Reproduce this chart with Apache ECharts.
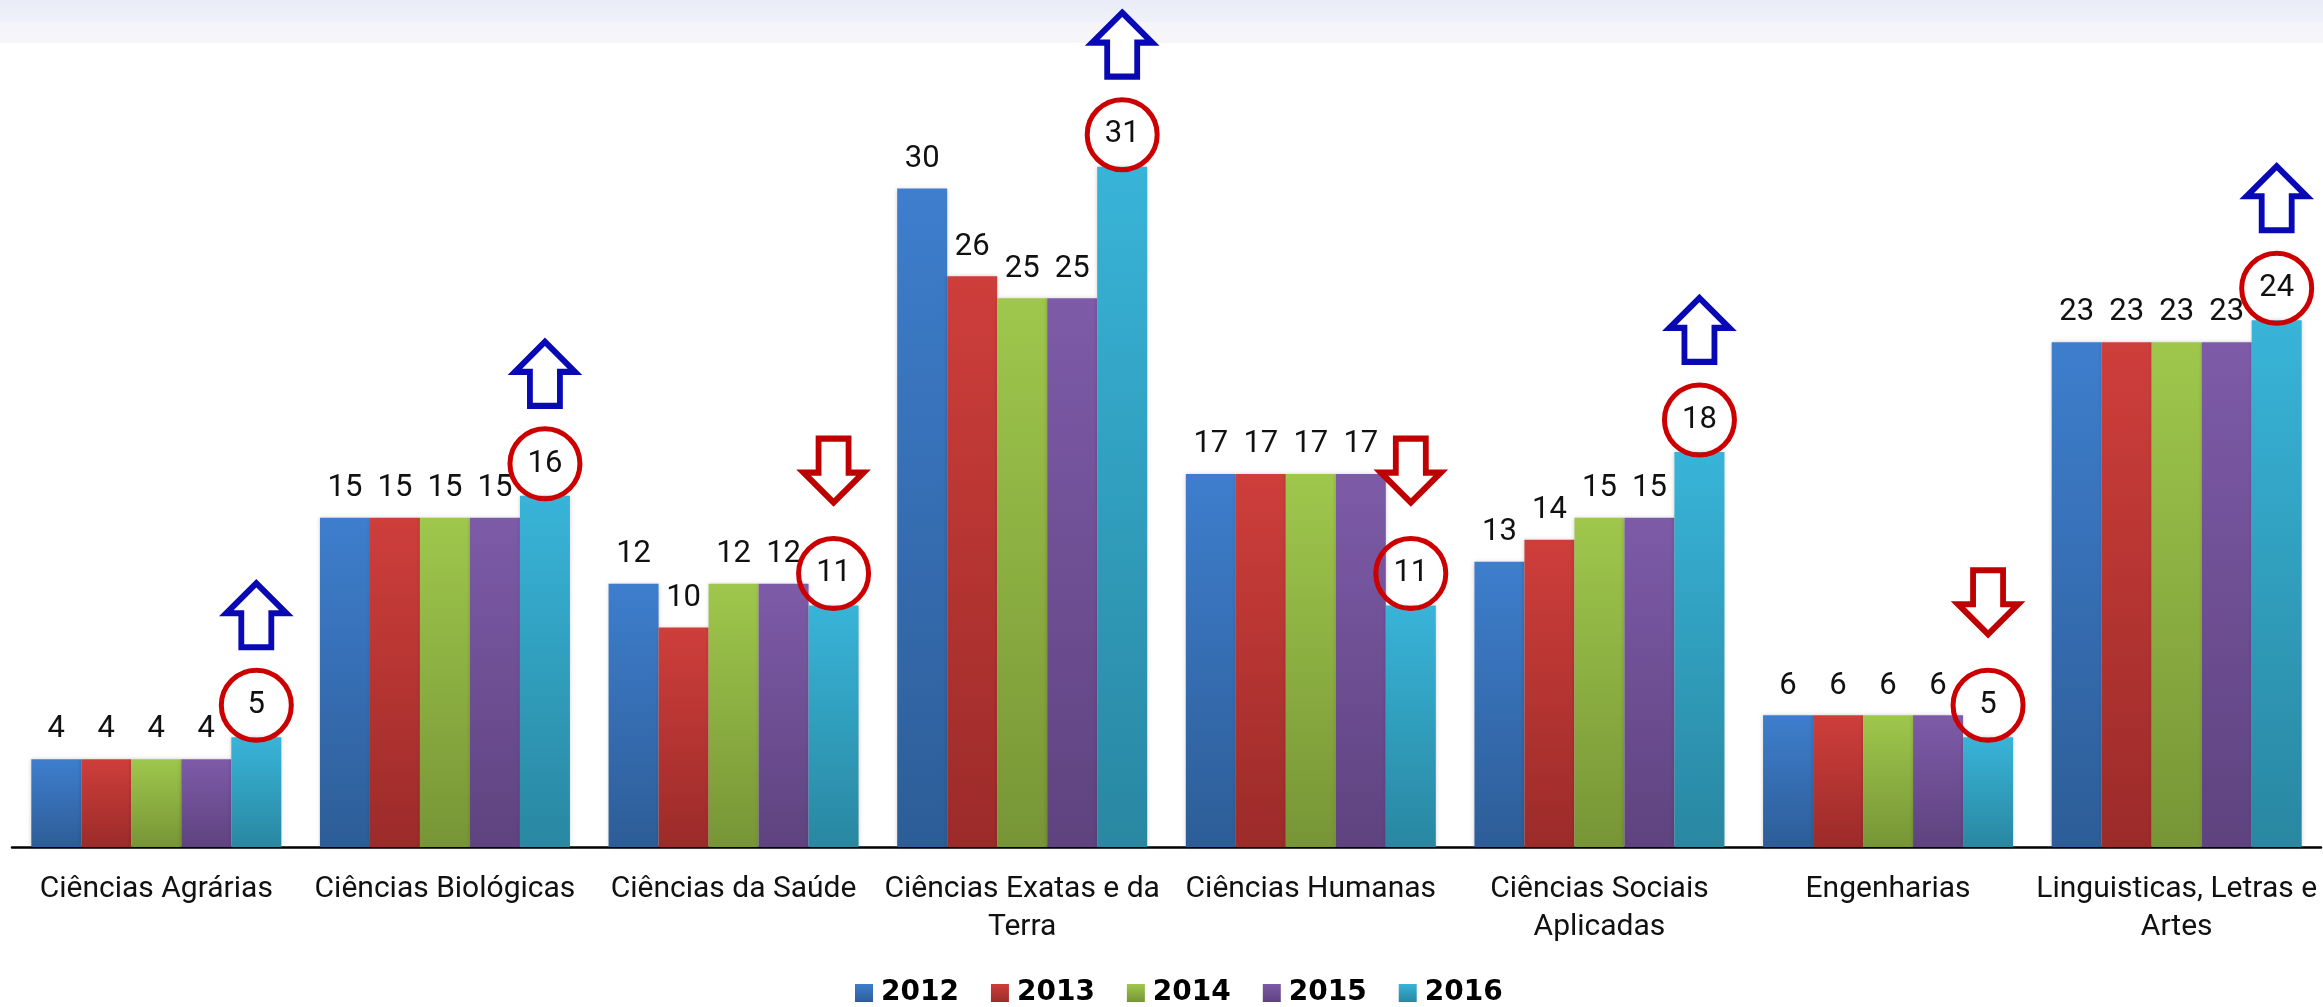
<!DOCTYPE html>
<html>
<head>
<meta charset="utf-8">
<script src="https://cdn.jsdelivr.net/npm/echarts@6/dist/echarts.min.js"></script>
<style>
  html, body { margin: 0; padding: 0; background: #fff; }
  #chart { width: 2323px; height: 1007px; }
</style>
</head>
<body>
<div id="chart"></div>
<script>
// categorias (eixo x)
const categories = [
  'Ciências Agrárias',
  'Ciências Biológicas',
  'Ciências da Saúde',
  'Ciências Exatas e da\nTerra',
  'Ciências Humanas',
  'Ciências Sociais\nAplicadas',
  'Engenharias',
  'Linguisticas, Letras e\nArtes'
]
const years = ['2012', '2013', '2014', '2015', '2016']
const v2012 = [4, 15, 12, 30, 17, 13, 6, 23]
const v2013 = [4, 15, 10, 26, 17, 14, 6, 23]
const v2014 = [4, 15, 12, 25, 17, 15, 6, 23]
const v2015 = [4, 15, 12, 25, 17, 15, 6, 23]
const v2016 = [5, 16, 11, 31, 11, 18, 5, 24]

const values = [v2012, v2013, v2014, v2015, v2016]
// cores: topo -> base
const colors = [
  ['#3e7ecd', '#2d5d97'],
  ['#ce3e3b', '#9b2b29'],
  ['#9fc74c', '#779536'],
  ['#7d5ba8', '#5e437f'],
  ['#38b4d8', '#2987a1']
]

const UP = 'path://M30,0 L60,30 L45,30 L45,64 L15,64 L15,30 L0,30 Z'
const DOWN = 'path://M15,0 L45,0 L45,34 L60,34 L30,64 L0,34 L15,34 Z'

const chart = echarts.init(document.getElementById('chart'))

const barSeries = years.map((y, k) => {
  const s = {
    name: y,
    type: 'bar',
    data: values[k],
    barWidth: 50,
    barGap: '0%',
    itemStyle: {
      color: new echarts.graphic.LinearGradient(0, 0, 0, 1, [
        { offset: 0, color: colors[k][0] },
        { offset: 1, color: colors[k][1] }
      ]),
      shadowBlur: 4,
      shadowColor: 'rgba(0,0,0,0.18)'
    },
    label: {
      show: true,
      position: 'top',
      distance: 14,
      color: '#111',
      fontFamily: 'Roboto',
      fontSize: 31
    },
    emphasis: { disabled: true },
    z: 2
  }
  // 2016 com circulo vermelho
  if (k === 4) {
    s.label = {
      show: true,
      position: 'top',
      distance: -3,
      color: '#111',
      fontFamily: 'Roboto',
      fontSize: 31,
      width: 70,
      height: 70,
      lineHeight: 70,
      align: 'center',
      borderColor: '#cc0000',
      borderWidth: 5,
      borderRadius: 36,
      padding: 0
    }
  }
  return s
})

// setas (subiu / desceu em relacao a 2015)
const arrowData = v2016.map((v, i) => {
  const up = v >= v2015[i]
  return {
    value: [i, v],
    symbol: up ? UP : DOWN,
    symbolOffset: [100, up ? -122 : -135],
    itemStyle: {
      color: '#fff',
      borderColor: up ? '#0808b4' : '#c00000',
      borderWidth: 6,
      opacity: 1
    }
  }
})

const option = {
  animation: false,
  backgroundColor: '#fff',
  graphic: [{
    type: 'rect',
    left: 0,
    top: 0,
    shape: { width: 2323, height: 43 },
    style: {
      fill: new echarts.graphic.LinearGradient(0, 0, 0, 1, [
        { offset: 0, color: '#eaedf8' },
        { offset: 0.5, color: '#eef1f9' },
        { offset: 0.52, color: '#f4f4f9' },
        { offset: 1, color: '#f5f5fa' }
      ])
    },
    z: -1
  }],
  grid: {
    left: 12,
    right: 2,
    top: 13,
    bottom: 160
  },
  legend: {
    data: years,
    left: 850,
    top: 974,
    itemWidth: 18,
    itemHeight: 18,
    itemGap: 32,
    icon: 'rect',
    textStyle: {
      fontFamily: 'DejaVu Sans',
      fontWeight: 'bold',
      fontSize: 28,
      color: '#000',
      padding: [0, 0, 0, 3]
    }
  },
  xAxis: {
    type: 'category',
    data: categories,
    axisLine: { lineStyle: { color: '#000', width: 2.5 } },
    axisTick: { show: false },
    axisLabel: {
      color: '#111',
      fontFamily: 'Roboto',
      fontSize: 30,
      lineHeight: 38,
      margin: 23,
      interval: 0
    }
  },
  yAxis: {
    type: 'value',
    min: 0,
    max: 38,
    show: false,
    splitLine: { show: false }
  },
  series: barSeries.concat([{
    type: 'scatter',
    data: arrowData,
    symbolSize: [60, 64],
    itemStyle: { opacity: 1 },
    silent: true,
    z: 5
  }])
}

chart.setOption(option)
</script>
</body>
</html>
